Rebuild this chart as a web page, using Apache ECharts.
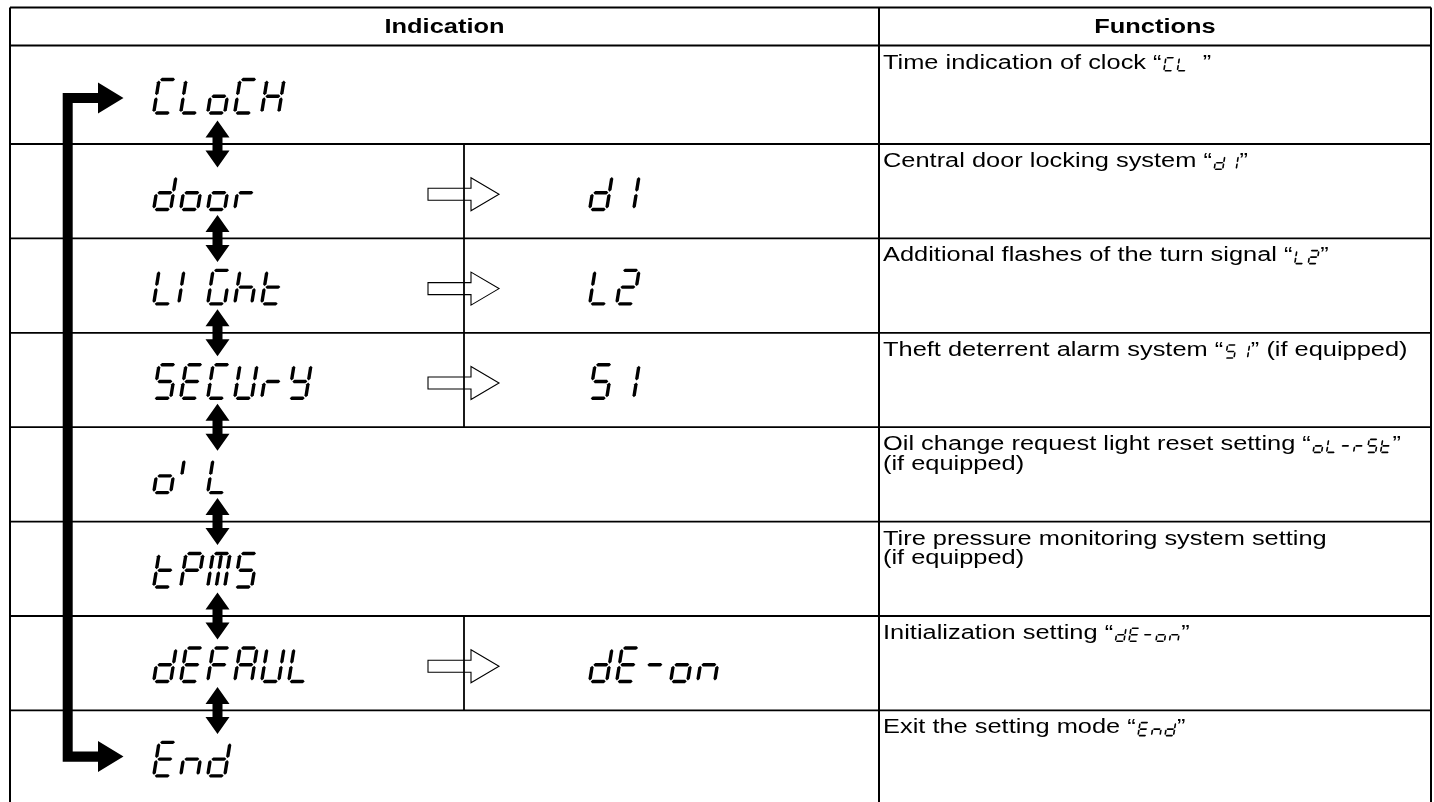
<!DOCTYPE html>
<html><head><meta charset="utf-8">
<script src="https://cdn.jsdelivr.net/npm/echarts@6/dist/echarts.min.js"></script>
<style>html,body{margin:0;padding:0;background:#fff}#c{width:1434px;height:802px}</style>
</head><body><div id="c"></div>
<script>
// ---------------- data ----------------
const headers = ['Indication', 'Functions'];
const indications = ['CLoCH', 'door', 'LIGht', 'SECUrY', 'oiL', 'tPMS', 'dEFAUL', 'End'];
const subIndications = ['', 'd1', 'L2', 'S1', '', '', 'dE-on', ''];
const functionLines = [
  ['Time indication of clock \u201C{CL }\u201D'],
  ['Central door locking system \u201C{d1}\u201D'],
  ['Additional flashes of the turn signal \u201C{L2}\u201D'],
  ['Theft deterrent alarm system \u201C{S1}\u201D (if equipped)'],
  ['Oil change request light reset setting \u201C{oL-rSt}\u201D', '(if equipped)'],
  ['Tire pressure monitoring system setting', '(if equipped)'],
  ['Initialization setting \u201C{dE-on}\u201D'],
  ['Exit the setting mode \u201C{End}\u201D']
];

// ---------------- layout / style ----------------
const LAY = { left: 10, right: 1431, top: 7.5, head: 45.5, row1: 144, rowH: 94.4,
  colDiv: 879, subDiv: 464, glyphX: 152, subX: 588, arrowX: 217.5, fnX: 883 };
const BIG = { W: 17, H: 33.5, t: 3.4, g: 1.0, k: 0.16, pitch: 27 };
const SMALL = { W: 8.5, H: 13, t: 1.6, g: 0.5, k: 0.16, pitch: 13.5 };
const FONT_PX = 20, SX = 1.27, LINE_GAP = 19.5, CAP_MID = 7.2;
const FONT_FAMILY = '"Liberation Sans", Arial, sans-serif';

function rowTop(i) { return i === 0 ? LAY.head : LAY.row1 + (i - 1) * LAY.rowH; }

const CHAR_SEGS = {
  'C': 'adef', 'L': 'def', 'o': 'cdeg', 'H': 'bcefg', 'd': 'bcdeg', 'r': 'eg',
  'I': 'Jj', 'i': 'K', 'G': 'acdef', 'h': 'cefg', 't': 'defg', 'S': 'acdfg',
  'E': 'adefg', 'U': 'bcdef', 'Y': 'bcdfg', 'P': 'abefg', 'M': 'abcefMN',
  'F': 'aefg', 'A': 'abcefg', 'n': 'ceg', '1': 'bc', '2': 'abdeg', '-': 'g', ' ': ''
};
const SEG = {
  a: [0, 0, 1, 0], b: [1, 0, 1, .5], c: [1, .5, 1, 1], d: [0, 1, 1, 1],
  e: [0, .5, 0, 1], f: [0, 0, 0, .5], g: [0, .5, 1, .5],
  M: [.5, 0, .5, .5], N: [.5, .5, .5, 1],
  J: [-.12, 0, -.12, .5], j: [-.12, .5, -.12, 1], K: [-.1, 0, -.1, .5]
};

const mctx = document.createElement('canvas').getContext('2d');
function textW(s, bold) {
  mctx.font = (bold ? 'bold ' : '') + FONT_PX + 'px ' + FONT_FAMILY;
  return mctx.measureText(s).width * SX;
}

function glyphs(api, str, x0, yTop, sp) {
  const out = [];
  const h = sp.t / 2;
  for (let ci = 0; ci < str.length; ci++) {
    const segs = CHAR_SEGS[str[ci]] || '';
    const cellX = x0 + ci * sp.pitch + h;
    for (const s of segs) {
      const [u1, v1, u2, v2] = SEG[s];
      let x1 = u1 * sp.W, y1 = v1 * sp.H, x2 = u2 * sp.W, y2 = v2 * sp.H;
      const len = Math.hypot(x2 - x1, y2 - y1), ux = (x2 - x1) / len, uy = (y2 - y1) / len;
      x1 += ux * sp.g; y1 += uy * sp.g; x2 -= ux * sp.g; y2 -= uy * sp.g;
      const nx = -uy, ny = ux;
      const raw = [
        [x1, y1], [x1 + ux * h + nx * h, y1 + uy * h + ny * h],
        [x2 - ux * h + nx * h, y2 - uy * h + ny * h], [x2, y2],
        [x2 - ux * h - nx * h, y2 - uy * h - ny * h], [x1 + ux * h - nx * h, y1 + uy * h - ny * h]
      ];
      const pts = raw.map(([x, y]) => api.coord([cellX + x + (sp.H - y) * sp.k, yTop + y]));
      out.push({ type: 'polygon', shape: { points: pts }, style: { fill: '#000' } });
    }
  }
  return out;
}
function glyphWidth(str, sp) { return (str.length - 1) * sp.pitch + sp.W + sp.t + sp.H * sp.k; }

function line(api, x1, y1, x2, y2, w) {
  const p1 = api.coord([x1, y1]), p2 = api.coord([x2, y2]);
  return { type: 'line', shape: { x1: p1[0], y1: p1[1], x2: p2[0], y2: p2[1] }, style: { stroke: '#000', lineWidth: w } };
}
function poly(api, pts, style) {
  return { type: 'polygon', shape: { points: pts.map(p => api.coord(p)) }, style: style };
}
// text placed by its vertical middle
function text(api, s, x, yMid, opts) {
  const p = api.coord([x, yMid]);
  return { type: 'text', x: p[0], y: p[1], scaleX: SX,
    style: { text: s, x: 0, y: 0, fill: '#000', font: (opts.bold ? 'bold ' : '') + FONT_PX + 'px ' + FONT_FAMILY,
      align: opts.align || 'left', verticalAlign: 'middle' } };
}

function renderRow(params, api) {
  const i = api.value(0);
  const top = rowTop(i), bot = rowTop(i + 1), cy = (top + bot) / 2;
  const ch = [];
  if (i > 0) ch.push(line(api, LAY.left, top, LAY.right, top, 1.8));
  ch.push(...glyphs(api, indications[i], LAY.glyphX, cy + 1.5 - BIG.H / 2, BIG));
  if (subIndications[i]) {
    ch.push(line(api, LAY.subDiv, top, LAY.subDiv, bot, 1.8));
    const ay = cy + 3;
    ch.push(poly(api, [[428, ay - 6], [471, ay - 6], [471, ay - 16.5], [499, ay], [471, ay + 16.5], [471, ay + 6], [428, ay + 6]],
      { fill: 'none', stroke: '#000', lineWidth: 1.1 }));
    ch.push(...glyphs(api, subIndications[i], LAY.subX, cy + 1.5 - BIG.H / 2, BIG));
  }
  if (i < indications.length - 1) {
    const c = LAY.arrowX, y = bot;
    ch.push(poly(api, [[c, y - 23.5], [c + 12, y - 6.5], [c + 5, y - 6.5], [c + 5, y + 6.5], [c + 12, y + 6.5],
      [c, y + 23.5], [c - 12, y + 6.5], [c - 5, y + 6.5], [c - 5, y - 6.5], [c - 12, y - 6.5]], { fill: '#000' }));
  }
  functionLines[i].forEach((ln, li) => {
    const mid = top + 17.5 + li * LINE_GAP;
    const base = mid + CAP_MID;
    const m = ln.match(/^(.*?)\{(.*?)\}(.*)$/);
    if (!m) { ch.push(text(api, ln, LAY.fnX, mid, {})); return; }
    let x = LAY.fnX;
    ch.push(text(api, m[1], x, mid, {}));
    x += textW(m[1]) + 1.5;
    ch.push(...glyphs(api, m[2], x, base + 0.5 - SMALL.H, SMALL));
    x += glyphWidth(m[2], SMALL) + 0.5;
    ch.push(text(api, m[3], x, mid, {}));
  });
  return { type: 'group', children: ch };
}

function renderFrame(params, api) {
  const ch = [];
  ch.push(line(api, LAY.left, LAY.top, LAY.right, LAY.top, 2));
  ch.push(line(api, LAY.left, LAY.head, LAY.right, LAY.head, 2));
  ch.push(line(api, LAY.left, LAY.top, LAY.left, 802, 2));
  ch.push(line(api, LAY.right, LAY.top, LAY.right, 802, 2));
  ch.push(line(api, LAY.colDiv, LAY.top, LAY.colDiv, 802, 2));
  const hy = (LAY.top + LAY.head) / 2 + 0.5;
  ch.push(text(api, headers[0], (LAY.left + LAY.colDiv) / 2, hy, { bold: true, align: 'center' }));
  ch.push(text(api, headers[1], (LAY.colDiv + LAY.right) / 2, hy, { bold: true, align: 'center' }));
  // loop arrow
  const n = indications.length;
  const yA = (rowTop(0) + rowTop(1)) / 2 + 3.2;
  const yB = (rowTop(n - 1) + rowTop(n)) / 2 - 1;
  ch.push(poly(api, [[62.7, yA - 5], [98, yA - 5], [98, yA - 15.5], [123.5, yA], [98, yA + 15.5], [98, yA + 5],
    [72.7, yA + 5], [72.7, yB - 5.2], [98, yB - 5.2], [98, yB - 15.5], [123.5, yB], [98, yB + 15.5], [98, yB + 5.2],
    [62.7, yB + 5.2]], { fill: '#000' }));
  return { type: 'group', children: ch };
}

const chart = echarts.init(document.getElementById('c'), null, { renderer: 'canvas' });
chart.setOption({
  animation: false,
  backgroundColor: '#fff',
  grid: { left: 0, right: 0, top: 0, bottom: 0 },
  xAxis: { type: 'value', min: 0, max: 1434, show: false },
  yAxis: { type: 'value', min: 0, max: 802, inverse: true, show: false },
  series: [
    { type: 'custom', clip: false, silent: true, renderItem: renderFrame, data: [[0, 0]] },
    { type: 'custom', clip: false, silent: true, renderItem: renderRow,
      data: indications.map((_, i) => [i, i]) }
  ]
});
</script></body></html>
